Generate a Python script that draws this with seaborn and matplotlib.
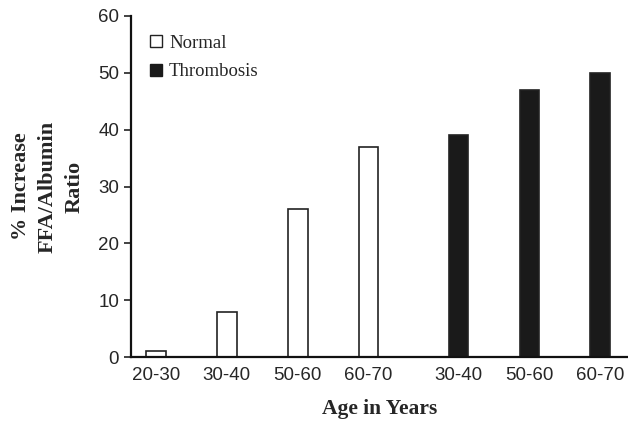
import matplotlib
matplotlib.use("Agg")
import matplotlib.pyplot as plt
from matplotlib.lines import Line2D
import seaborn as sns
import pandas as pd

# data
normal_ages = ["20-30", "30-40", "50-60", "60-70"]
normal_values = [1, 8, 26, 37]
thrombosis_ages = ["30-40", "50-60", "60-70"]
thrombosis_values = [39, 47, 50]

# layout: gap between the two groups is a bit wider than between bars
group_gap = 1.27
positions = list(range(len(normal_ages))) + [
    len(normal_ages) - 1 + group_gap + i for i in range(len(thrombosis_ages))
]

df = pd.DataFrame({
    "pos": positions,
    "value": normal_values + thrombosis_values,
    "group": ["Normal"] * len(normal_ages) + ["Thrombosis"] * len(thrombosis_ages),
})

sns.set_style("ticks")
plt.rcParams["font.family"] = ["Liberation Sans", "DejaVu Sans"]

fig = plt.figure(figsize=(6.28, 4.21), dpi=100)
ax = fig.add_axes([0.2086, 0.152, 0.7914, 0.81])

palette = {"Normal": "white", "Thrombosis": "#1a1a1a"}
sns.barplot(data=df, x="pos", y="value", hue="group", native_scale=True,
            dodge=False, palette=palette, width=0.28, edgecolor="#222222",
            linewidth=1.2, legend=False, ax=ax)

ax.set_xlim(-0.35, positions[-1] + 0.39)
ax.set_ylim(0, 60)
ax.set_yticks(range(0, 61, 10))
ax.set_xticks(positions)
ax.set_xticklabels(normal_ages + thrombosis_ages)
ax.tick_params(axis="y", labelsize=13.5, length=5, width=1.2, color="#222222")
ax.tick_params(axis="x", labelsize=13.5, length=0, pad=7)

for side in ["top", "right"]:
    ax.spines[side].set_visible(False)
for side in ["left", "bottom"]:
    ax.spines[side].set_linewidth(1.6)
    ax.spines[side].set_color("#111111")

serif = ["Liberation Serif", "DejaVu Serif"]
ax.set_xlabel("Age in Years", family=serif, fontweight="bold", fontsize=15.5, labelpad=11)
ax.set_ylabel("% Increase\nFFA/Albumin\nRatio", family=serif, fontweight="bold",
              fontsize=16, labelpad=10, linespacing=1.45)

handles = [
    Line2D([], [], marker="s", linestyle="none", markersize=9,
           markerfacecolor="white", markeredgecolor="#222222", markeredgewidth=1),
    Line2D([], [], marker="s", linestyle="none", markersize=9,
           markerfacecolor="#1a1a1a", markeredgecolor="#1a1a1a"),
]
ax.legend(handles, ["Normal", "Thrombosis"], loc="upper left",
          bbox_to_anchor=(0.003, 0.995), frameon=False, handlelength=0.7,
          handletextpad=0.35, labelspacing=0.6, prop={"family": serif, "size": 13.5})

fig.savefig("out.png", dpi=100)
